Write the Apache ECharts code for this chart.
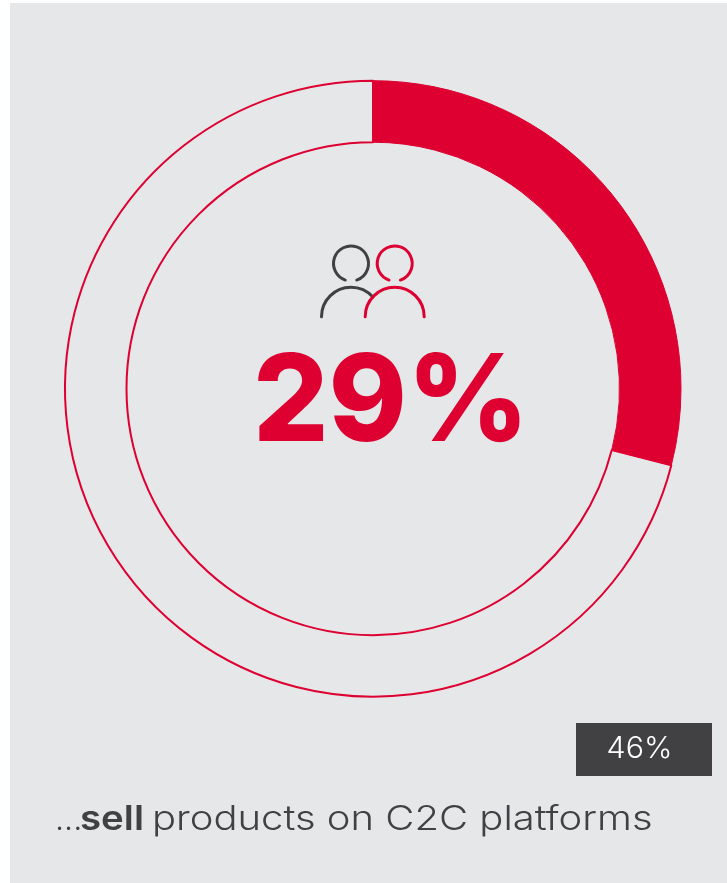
<!DOCTYPE html>
<html>
<head>
<meta charset="utf-8">
<style>html,body{margin:0;padding:0;background:#fff}#chart{width:727px;height:883px}</style>
<script src="https://cdn.jsdelivr.net/npm/echarts@6/dist/echarts.min.js"></script>
</head>
<body>
<div id="chart"></div>
<script>
// Share of respondents who sell on C2C platforms, with the comparison figure
const categories = ['sell', 'other'];
const shareValues = [29, 71];
const comparisonValue = 46;
const captionLead = '...';
const captionBold = 'sell';
const captionRest = 'products on C2C platforms';

const RED = '#dd0031';
const GREY = '#414042';
const PANEL = '#e6e7e9';
const deg = Math.PI / 180;

// Two-person outline icon: a head and a shoulder arc for each figure
function person(cx, color, shoulderEnd, z) {
  const common = { fill: 'none', stroke: color, lineWidth: 3, lineCap: 'round' };
  return [
    { type: 'arc', z: z, shape: { cx: cx, cy: 263.5, r: 17.5, startAngle: 109 * deg, endAngle: 71 * deg, clockwise: true }, style: common },
    { type: 'arc', z: z, shape: { cx: cx, cy: 316.7, r: 29.5, startAngle: 180 * deg, endAngle: shoulderEnd * deg, clockwise: true }, style: common }
  ];
}

// One run of the caption, stretched horizontally to the wide letterform
function captionRun(text, x, scaleX, weight) {
  return {
    type: 'text', z: 6, x: x, y: 820, scaleX: scaleX,
    style: { text: text, fill: GREY, verticalAlign: 'middle', font: weight + ' 34px Inter' }
  };
}

const chart = echarts.init(document.getElementById('chart'), null, { renderer: 'canvas' });
chart.setOption({
  animation: false,
  graphic: [
    { type: 'rect', z: -10, shape: { x: 10, y: 3, width: 717, height: 880 }, style: { fill: PANEL } },
    ...person(351, GREY, 318, 5),
    ...person(394.7, RED, 360, 6),
    {
      type: 'text', z: 6, x: 391, y: 405, scaleX: 0.98,
      style: {
        text: shareValues[0] + '%', fill: RED, align: 'center', verticalAlign: 'middle',
        font: '800 121px Inter'
      }
    },
    { type: 'rect', z: 5, shape: { x: 576, y: 723, width: 136, height: 53 }, style: { fill: GREY } },
    {
      type: 'text', z: 6, x: 639.5, y: 749, scaleX: 1.03,
      style: {
        text: comparisonValue + '%', fill: '#ffffff', align: 'center', verticalAlign: 'middle',
        font: '300 29.5px Inter'
      }
    },
    captionRun(captionLead, 55, 0.95, 300),
    captionRun(captionBold, 80, 1.13, 600),
    captionRun(captionRest, 152, 1.176, 300)
  ],
  series: [{
    type: 'pie',
    center: [373, 388.7],
    radius: [246.5, 308],
    startAngle: 90,
    clockwise: true,
    silent: true,
    label: { show: false },
    labelLine: { show: false },
    data: categories.map((name, i) => ({
      name: name,
      value: shareValues[i],
      itemStyle: i === 0
        ? { color: RED, borderColor: RED, borderWidth: 1 }
        : { color: 'rgba(0,0,0,0)', borderColor: RED, borderWidth: 2 }
    }))
  }]
});
</script>
</body>
</html>
